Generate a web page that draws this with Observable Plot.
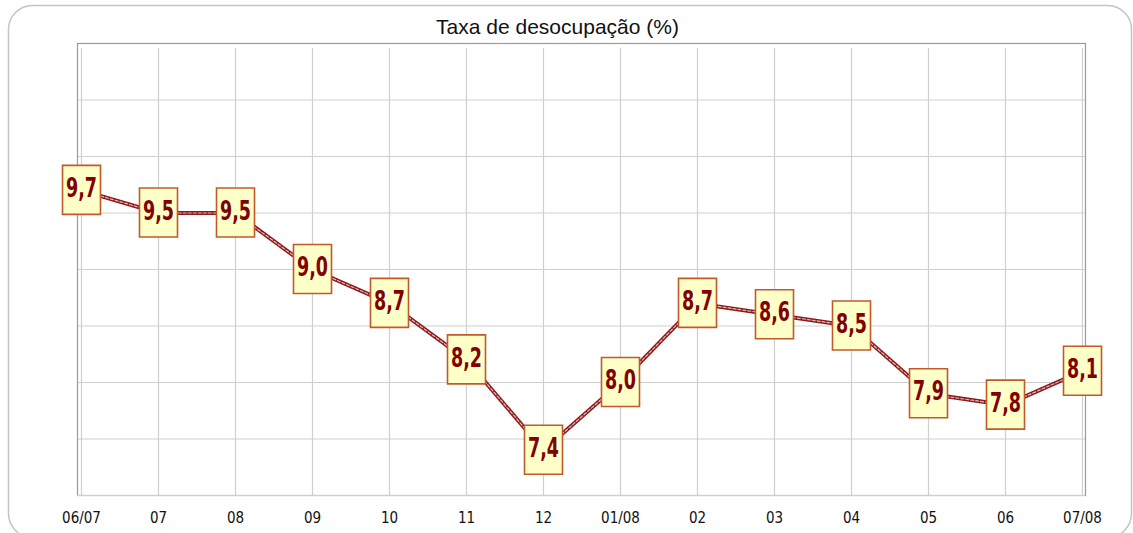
<!DOCTYPE html>
<html>
<head>
<meta charset="utf-8">
<script src="https://cdn.jsdelivr.net/npm/d3@7"></script>
<script src="https://cdn.jsdelivr.net/npm/@observablehq/plot@0.6"></script>
<style>
  html, body { margin: 0; padding: 0; background: #fff; }
  #chart svg { display: block; }
</style>
</head>
<body>
<div id="chart"></div>
<script>
const title = "Taxa de desocupação (%)";
const months = ["06/07","07","08","09","10","11","12","01/08","02","03","04","05","06","07/08"];
const rates = [9.7, 9.5, 9.5, 9.0, 8.7, 8.2, 7.4, 8.0, 8.7, 8.6, 8.5, 7.9, 7.8, 8.1];
const yDomain = [7, 11];
const yGrid = d3.range(7, 11.01, 0.5);

const data = months.map((m, i) => ({m, v: rates[i]}));
const fmt = v => d3.format(".1f")(v).replace(".", ",");

const boxSymbol = {
  draw(ctx) {
    ctx.moveTo(-19, -25);
    ctx.lineTo(19, -25);
    ctx.lineTo(19, 24);
    ctx.lineTo(-19, 24);
    ctx.closePath();
  }
};

const chart = Plot.plot({
  width: 1133,
  height: 533,
  marginLeft: 77,
  marginRight: 48,
  marginTop: 43,
  marginBottom: 38,
  style: {background: "#fff"},
  x: {type: "point", domain: months, padding: 0, axis: null},
  y: {domain: yDomain, axis: null},
  marks: [
    Plot.frame({rx: 24, ry: 24, insetLeft: -69, insetTop: -38, insetRight: -46, insetBottom: -42, stroke: "#c4c4c4", strokeWidth: 1.5}),
    Plot.ruleY(yGrid, {stroke: "#cfcfcf", strokeWidth: 1.2}),
    Plot.ruleX(months, {y1: yDomain[0], y2: yDomain[1], stroke: "#cfcfcf", strokeWidth: 1.2, insetBottom: -5}),
    Plot.frame({stroke: "#9a9a9a", strokeWidth: 1.2}),
    Plot.ruleY([yDomain[0]], {stroke: "#cfcfcf", strokeWidth: 1.2}),
    Plot.axisX({label: null, tickSize: 0, tickPadding: 17, fontSize: 15, fontFamily: "DejaVu Sans Condensed, DejaVu Sans, sans-serif", fill: "#111"}),
    Plot.text([title], {frameAnchor: "top", dy: -24, dx: -24, fontSize: 21, fontFamily: "Liberation Sans, Arial, sans-serif", fill: "#111"}),
    Plot.line(data, {x: "m", y: "v", stroke: "#8b1a1a", strokeWidth: 4}),
    Plot.line(data, {x: "m", y: "v", stroke: "#eab8b8", strokeWidth: 1.2, strokeDasharray: "3,2"}),
    Plot.dot(data, {x: "m", y: "v", symbol: boxSymbol, r: 10, fill: "#ffffc8", stroke: "#c2592a", strokeWidth: 1.6}),
    Plot.text(data, {x: "m", y: "v", text: d => fmt(d.v), dy: -2, fill: "#820000", fontSize: 27, fontWeight: "bold", fontFamily: "DejaVu Sans Condensed, DejaVu Sans, sans-serif"})
  ]
});
d3.select(chart).selectAll("text")
  .filter(function() { return /^\d,\d$/.test(this.textContent); })
  .attr("textLength", 31)
  .attr("lengthAdjust", "spacingAndGlyphs");
document.getElementById("chart").appendChild(chart);
</script>
</body>
</html>
